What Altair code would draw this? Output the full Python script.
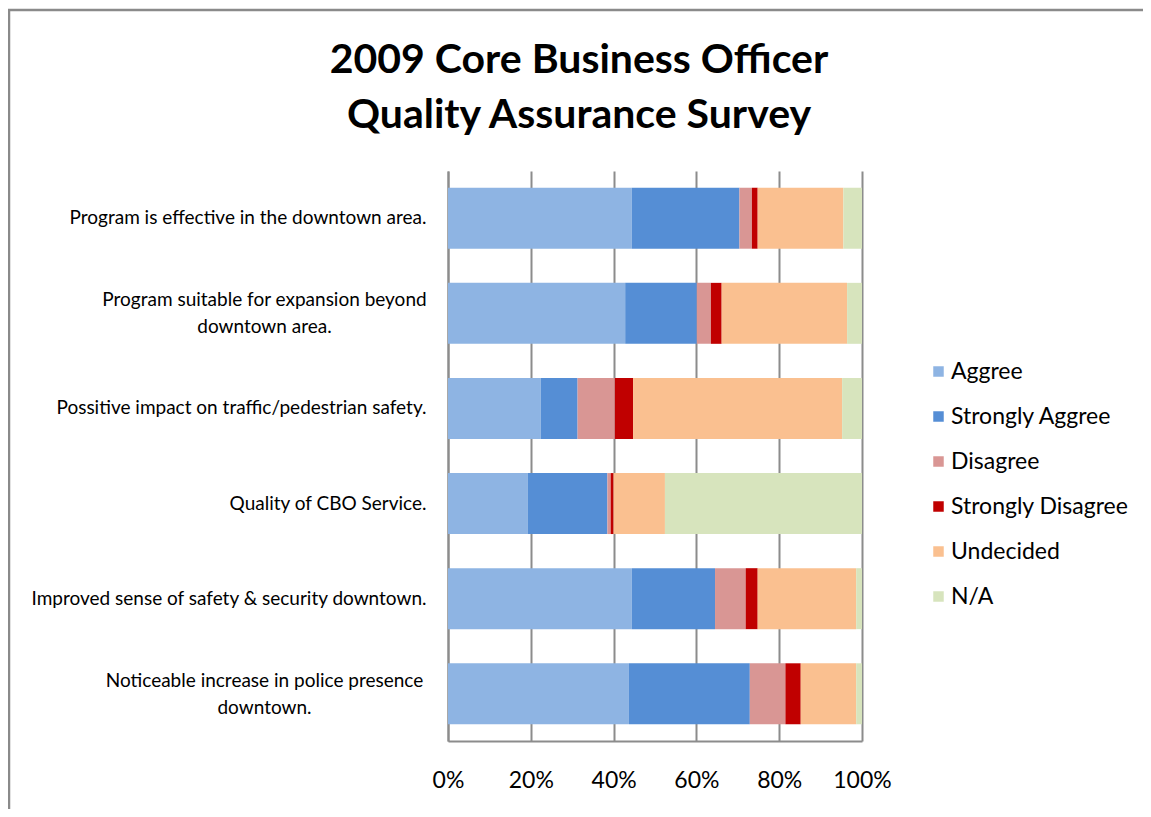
import altair as alt
import pandas as pd

categories = [
    "Program is effective in the downtown area.",
    "Program suitable for expansion beyond\ndowntown area.",
    "Possitive impact on traffic/pedestrian safety.",
    "Quality of  CBO Service.",
    "Improved sense of safety & security downtown.",
    "Noticeable increase in police presence\ndowntown.",
]
responses = ["Aggree", "Strongly Aggree", "Disagree", "Strongly Disagree", "Undecided", "N/A"]
colors = ["#8EB4E3", "#558ED5", "#D99694", "#C00000", "#FAC090", "#D7E4BD"]

aggree = [44.4, 42.8, 22.4, 19.3, 44.4, 43.7]
strongly_aggree = [26.0, 17.3, 8.9, 19.2, 20.1, 29.2]
disagree = [3.0, 3.4, 9.0, 0.8, 7.4, 8.6]
strongly_disagree = [1.4, 2.6, 4.4, 0.7, 2.9, 3.7]
undecided = [20.7, 30.3, 50.5, 12.4, 23.8, 13.4]
not_applicable = [4.5, 3.6, 4.8, 47.6, 1.4, 1.4]

x_ticks = [0, 0.2, 0.4, 0.6, 0.8, 1.0]

series = [aggree, strongly_aggree, disagree, strongly_disagree, undecided, not_applicable]
rows = []
for k, (resp, vals) in enumerate(zip(responses, series)):
    for cat, v in zip(categories, vals):
        rows.append({"Statement": cat, "Response": resp, "Share": v, "idx": k})
df = pd.DataFrame(rows)

FONT = "Lato"
GRAY = "#8c8c8c"
multi = "indexof(datum.value, '\\n') >= 0"

bars = alt.Chart(df).mark_bar().encode(
    y=alt.Y(
        "Statement:N",
        sort=categories,
        scale=alt.Scale(paddingInner=0.359, paddingOuter=0.176),
        axis=alt.Axis(
            title=None,
            ticks=False,
            grid=False,
            domain=True,
            domainColor=GRAY,
            domainWidth=2,
            labelFont=FONT,
            labelFontSize=19,
            labelColor="#000000",
            labelLimit=0,
            labelLineHeight=27,
            labelBaseline="middle",
            labelExpr="split(datum.label, '\\n')",
            labelAlign={"condition": {"test": multi, "value": "center"}, "value": "right"},
            labelPadding={"condition": {"test": multi, "value": 184}, "value": 22},
            labelOffset={"condition": {"test": multi, "value": -13}, "value": 0},
        ),
    ),
    x=alt.X(
        "Share:Q",
        stack="normalize",
        scale=alt.Scale(domain=[0, 1], nice=False),
        axis=alt.Axis(
            title=None,
            format="%",
            values=x_ticks,
            ticks=False,
            grid=True,
            gridColor=GRAY,
            gridWidth=2,
            domainColor=GRAY,
            domainWidth=2,
            labelFont=FONT,
            labelFontSize=23,
            labelColor="#000000",
            labelPadding=28,
            labelFlush=False,
            labelOverlap=False,
        ),
    ),
    color=alt.Color(
        "Response:N",
        scale=alt.Scale(domain=responses, range=colors),
        legend=alt.Legend(
            title=None,
            orient="none",
            legendX=479,
            legendY=189,
            symbolType="square",
            symbolSize=110,
            symbolStrokeWidth=0,
            labelFont=FONT,
            labelFontSize=23,
            labelColor="#000000",
            labelOffset=1,
            rowPadding=21,
            padding=0,
            labelLimit=0,
        ),
    ),
    order=alt.Order("idx:Q"),
)

frame = alt.Chart(pd.DataFrame({"frame": [0]})).mark_rect(
    fillOpacity=0, stroke="#8a8a8a", strokeWidth=2.5
).encode(
    x=alt.value(-439), x2=alt.value(1000), y=alt.value(-161), y2=alt.value(1000)
)

chart = alt.layer(frame, bars).properties(
    width=414,
    height=570,
    title=alt.TitleParams(
        ["2009 Core Business Officer", "Quality Assurance Survey"],
        font=FONT,
        fontSize=41,
        fontWeight="bold",
        color="#000000",
        anchor="middle",
        frame="group",
        lineHeight=55,
        offset=-128,
        dx=-76,
    ),
    autosize=alt.AutoSizeParams(type="none"),
    padding={"left": 440, "top": 163, "right": 281, "bottom": 68},
).configure_view(strokeWidth=0)

chart.save("out.html", embed_options={"renderer": "svg", "actions": False})
